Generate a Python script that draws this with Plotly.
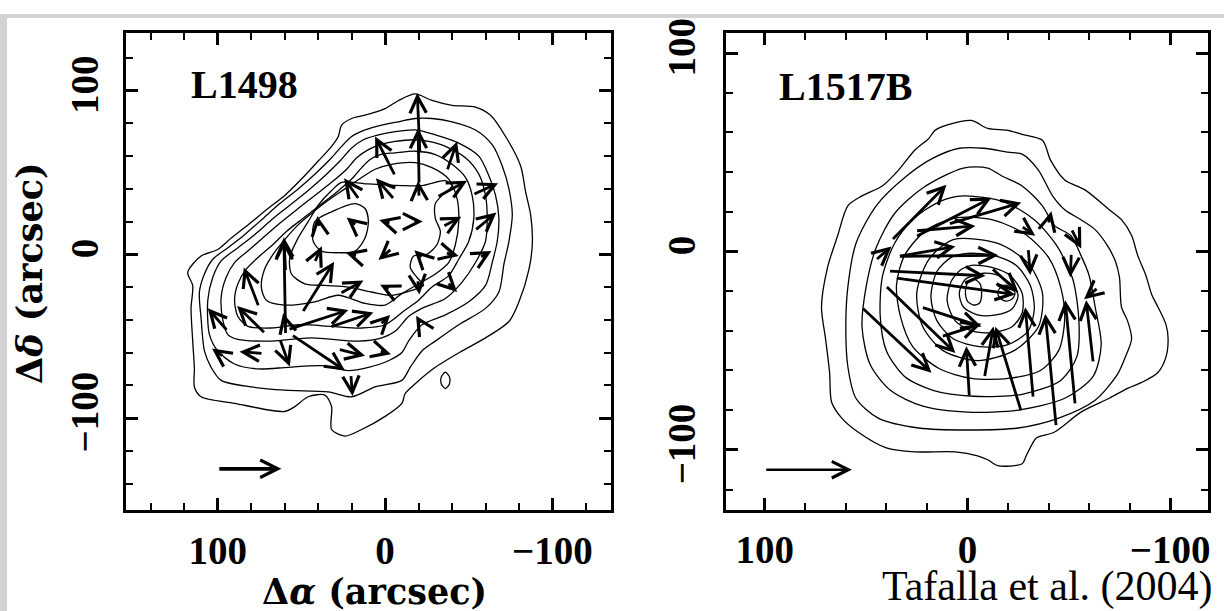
import plotly.graph_objects as go

# ---------------- L1498 (left panel) ----------------
# Contour paths, offsets in arcsec (x = RA offset, y = Dec offset)
L1498_C1_X = [-18, -8, 0, 12, 20, 26, 28, 32, 40, 50, 60, 70, 82, 92, 100, 110, 118, 115, 116, 115, 114, 114, 110, 90, 60, 54, 46, 36, 32, 32, 24, 14, 0, -10, -12, -18, -30, -46, -60, -74, -80, -86, -88, -87, -84, -81, -72, -63, -54, -40, -28, -18]
L1498_C1_Y = [98, 94, 89, 85, 83, 79, 72, 66, 57, 46, 36, 28, 18, 10, 3, -1, -11, -19, -33, -53, -70, -81, -87, -91, -96, -93, -87, -86, -93, -107, -111, -107, -99, -91, -85, -79, -69, -59, -51, -41, -29, -9, 7, 24, 38, 54, 72, 85, 90, 91, 94, 98]

L1498_C2_X = [-18, -8, 2, 12, 20, 26, 32, 42, 52, 63, 74, 84, 94, 103, 108, 111, 110, 108, 104, 98, 80, 60, 34, 20, 6, -10, -15, -22, -30, -44, -60, -68, -71, -74, -76, -74, -70, -64, -54, -40, -28, -18]
L1498_C2_Y = [83, 81, 79, 76, 72, 66, 59, 49, 40, 31, 21, 12, 4, -3, -12, -23, -39, -59, -69, -77, -81, -83, -84, -87, -81, -77, -69, -59, -53, -43, -33, -23, -6, 8, 24, 40, 54, 67, 76, 81, 83, 83]

L1498_C3_X = [-18, -6, 4, 13, 20, 27, 36, 46, 57, 68, 78, 88, 98, 103, 106, 105, 100, 90, 76, 58, 38, 22, 10, -2, -10, -14, -22, -36, -50, -60, -64, -67, -68, -66, -62, -56, -44, -30, -18]
L1498_C3_Y = [76, 75, 73, 70, 65, 57, 48, 39, 30, 21, 12, 4, -4, -14, -28, -49, -59, -67, -70, -69, -68, -71, -69, -65, -60, -53, -43, -37, -29, -19, -5, 8, 22, 36, 48, 60, 68, 73, 76]

L1498_C4_X = [-18, -6, 3, 10, 17, 23, 32, 42, 52, 63, 72, 81, 90, 95, 98, 97, 94, 88, 70, 44, 16, 2, -6, -14, -22, -36, -46, -54, -60, -61, -60, -56, -48, -36, -26, -18]
L1498_C4_Y = [70, 69, 67, 64, 59, 52, 44, 36, 28, 19, 11, 3, -5, -14, -26, -40, -49, -52, -53, -51, -53, -51, -47, -38, -33, -27, -17, -5, 8, 22, 36, 49, 59, 66, 69, 70]

L1498_C5_X = [-18, -6, 3, 9, 14, 20, 29, 39, 49, 59, 67, 75, 83, 88, 90, 88, 82, 68, 52, 32, 14, 0, -12, -20, -28, -38, -44, -50, -53, -52, -48, -40, -30, -18]
L1498_C5_Y = [63, 62, 61, 58, 53, 46, 38, 30, 22, 14, 6, -1, -9, -18, -28, -38, -44, -45, -43, -44, -45, -43, -34, -28, -20, -13, -3, 8, 22, 36, 47, 55, 61, 63]

L1498_C6_X = [-18, -4, 6, 14, 24, 34, 44, 52, 60, 67, 72, 74, 71, 60, 42, 28, 12, 0, -10, -20, -30, -38, -42, -44, -43, -38, -28, -18]
L1498_C6_Y = [56, 55, 52, 47, 40, 33, 25, 18, 9, 0, -9, -20, -28, -31, -29, -25, -30, -31, -24, -18, -12, -5, 6, 20, 34, 46, 53, 56]

L1498_C7_X = [26, 10, -10, -22, -30, -36, -40, -34, -30, -30, -33, -31, -25, -17, -15, -19, -23, -16, -4, 8, 22, 36, 48, 56, 57, 52, 46, 40, 32, 26]
L1498_C7_Y = [44, 43, 42, 42, 44, 45, 42, 36, 31, 22, 14, 6, 0, -1, -8, -14, -19, -22, -25, -23, -20, -19, -18, -12, -2, 10, 20, 30, 39, 44]

L1498_C8_X = [42, 32, 18, 12, 10, 12, 18, 28, 38, 43, 42]
L1498_C8_Y = [20, 26, 31, 28, 20, 10, 2, 1, 2, 8, 20]

L1498_C9_X = [-36, -38.5, -38.5, -36, -33.5, -33.5, -36]
L1498_C9_Y = [-72, -75, -79, -82, -79, -75, -72]

# Velocity-gradient arrows: centre position and vector (arcsec of drawn length)
L1498_AX = [0, -20, -40, -20, 20, 0, -20, -40, -60, 40, 20, 0, -20, -40, -60, 60, 40, 20, 0, -20, -40, -60,
            80, 60, 40, 20, 0, -20, -40, 100, 80, 60, 40, 20, 0, -20, 100, 80, 60, 40, 20, 0, 20]
L1498_AY = [60, 60, 60, 80, 40, 40, 40, 40, 40, 20, 20, 20, 20, 20, 20, 0, 0, 0, 0, 0, 0, 0,
            -20, -20, -20, -20, -20, -20, -20, -40, -40, -40, -40, -40, -40, -40, -60, -60, -60, -60, -60, -60, -80]
L1498_DX = [12, 0.6, -6, 1.6, 9, 11, 0.6, -18, -15, 1, 6, 7, -5, -11, -13, 1, -4.4, 7, 8, 5, -8, -7,
            9, 1, -19, -14, 6, -1, -6, 12, 17, 2, -36, -26, -6, 3, 7, 14, -6, -32, -16, -7, -1]
L1498_DY = [24, 34, 18, 37, 13, 13, 10, 10, 7, 7, 5, 2, 0, 6, 11, 21, 10, 2, -7, 5, -2, 4,
            24, 58, 31, 8, 3, -9, -6, 14, 17, 8, 12, 9, 6, 5, 5, 1, -17, -22, -4, -2, -13]

# ---------------- L1517B (right panel) ----------------
L1517B_C1_X = [9, -2, -10, -20, -27, -37, -41, -48, -58, -70, -76, -81, -84, -88, -91, -94, -98, -99, -98, -94, -86, -79, -70, -56, -43, -34, -32, -29, -27, -15, -10, -5, 6, 26, 40, 54, 62, 67, 68, 70, 72, 69, 64, 59, 52, 42, 34, 26, 19, 16, 9]
L1517B_C1_Y = [64, 66, 62, 61, 59, 56, 46, 36, 31, 21, 16, 8, -2, -12, -22, -28, -37, -44, -53, -61, -66, -69, -74, -81, -91, -94, -97, -103, -107, -108, -105, -103, -101, -101, -99, -91, -84, -76, -61, -44, -28, -8, 8, 23, 28, 33, 41, 51, 57, 61, 64]

L1517B_C2_X = [4, -8, -20, -27, -35, -42, -48, -56, -63, -69, -73, -75, -76, -79, -81, -78, -74, -63, -45, -25, 0, 24, 44, 55, 59, 60, 59, 55, 45, 30, 17, 4]
L1517B_C2_Y = [52, 52, 50, 49, 41, 28, 21, 16, 11, 3, -5, -13, -28, -35, -44, -53, -62, -75, -84, -89, -90, -89, -84, -74, -58, -38, -18, 4, 23, 38, 47, 52]

L1517B_C3_X = [2, -10, -17, -27, -37, -43, -51, -56, -60, -63, -66, -62, -48, -25, 0, 22, 38, 48, 52, 50, 45, 36, 22, 2]
L1517B_C3_Y = [42, 42, 38, 33, 23, 13, 8, -2, -12, -28, -47, -63, -74, -80, -81, -78, -70, -57, -38, -18, 2, 19, 32, 42]

L1517B_C4_X = [2, -18, -33, -44, -52, -55, -54, -46, -27, -3, 17, 31, 40, 43, 42, 36, 27, 14, 2]
L1517B_C4_Y = [28, 25, 16, 3, -14, -35, -53, -65, -72, -73, -70, -63, -50, -33, -13, 4, 16, 25, 28]

L1517B_C5_X = [5, -12, -28, -40, -46, -48, -45, -36, -20, -2, 14, 27, 33, 35, 31, 20, 5]
L1517B_C5_Y = [17, 16, 9, -3, -18, -34, -50, -60, -64, -64, -59, -48, -33, -17, -2, 11, 17]

L1517B_C6_X = [7, -15, -30, -37, -35, -23, -5, 12, 22, 25, 19, 7]
L1517B_C6_Y = [6, 4, -6, -21, -38, -50, -55, -50, -38, -21, -4, 6]

L1517B_C7_X = [0, -13, -24, -31, -33, -30, -20, -6, 7, 15, 18, 15, 8, 0]
L1517B_C7_Y = [-1, -2, -7, -17, -29, -40, -47, -48, -44, -35, -23, -10, -3, -1]

L1517B_C8_X = [-2, -12, -21, -27, -27, -22, -12, -2, 6, 10, 8, 3, -2]
L1517B_C8_Y = [-7, -8, -12, -21, -31, -38, -41, -40, -35, -25, -15, -9, -7]

L1517B_C9_X = [-8, -15, -21, -25, -22, -14, -5, 2, 4, 1, -8]
L1517B_C9_Y = [-11, -12, -16, -22, -29, -32, -32, -28, -21, -14, -11]

L1517B_C10_X = [-3, -6, -7, -6, -3, 0, 1, 0, -3]
L1517B_C10_Y = [-14, -16, -21, -26, -27, -25, -20, -16, -14]

L1517B_C11_X = [-19, -22, -23.5, -22, -19, -16, -15, -16, -19]
L1517B_C11_Y = [-17, -19, -21, -24, -25, -23.5, -21, -18.5, -17]

L1517B_AX = [23.9, 6.9, -8.6, 41.4, 9.4, 15.0, 6.0, 23.2, 35.0, 7.9, -0.2, -10.6, -20.2, -30.5, -41.1, -50.7, -60.3,
             -30.5, -61.0, 10.8, -30.0, 20.0, -18.5, -40.7, -53.7, -51.0, 3.0]
L1517B_AY = [19.5, 17.2, 19.2, -1.0, -2.2, -11.1, -17.5, -34.2, -44.6, -33.0, -60.6, -50.7, -59.4, -51.0, -59.9, -51.0, -40.4,
             -5.2, -21.2, 11.6, 10.3, 0.0, -14.5, 17.0, 6.4, -7.0, -39.7]
L1517B_DX = [-27.1, -37.4, -36.0, -7.9, -49.3, -47.8, -59.1, -34.5, -34.5, -29.6, 1.5, -4.4, 12.8, 3.9, 5.4, 4.9, 3.5,
             -1.0, 6.9, -29.5, -6.9, -28.1, -13.3, -1.5, -4.9, 0.5, -19.7]
L1517B_DY = [28.1, 19.7, 10.8, 6.9, 0.5, -2.4, -8.4, -34.0, -33.0, -9.8, 25.6, 25.6, 42.9, 45.8, 56.7, 52.7, 31.6,
             -13.3, -5.9, 2.5, -4.9, 5.0, -12.3, 6.4, -9.8, -12.0, 6.4]

# Scale arrows (tail x, head x, y)
L1498_SCALE = [100, 62, -131]
L1517B_SCALE = [100, 57, -110]

TICK_FONT = dict(family="Liberation Serif", size=39, color="black", weight="bold")
LABEL_FONT = dict(family="Liberation Serif", size=40, color="black", weight="bold")
TITLE_FONT = dict(family="DejaVu Serif", size=35, color="black", weight="bold")

fig = go.Figure()

def add_paths(paths, xa, ya):
    for xs, ys in paths:
        fig.add_trace(go.Scatter(
            x=xs, y=ys, mode="lines", xaxis=xa, yaxis=ya,
            line=dict(color="black", width=1.3, shape="spline", smoothing=0.8),
            hoverinfo="skip", showlegend=False))

add_paths([(L1498_C1_X, L1498_C1_Y), (L1498_C2_X, L1498_C2_Y), (L1498_C3_X, L1498_C3_Y),
           (L1498_C4_X, L1498_C4_Y), (L1498_C5_X, L1498_C5_Y), (L1498_C6_X, L1498_C6_Y),
           (L1498_C7_X, L1498_C7_Y), (L1498_C8_X, L1498_C8_Y), (L1498_C9_X, L1498_C9_Y)], "x", "y")
add_paths([(L1517B_C1_X, L1517B_C1_Y), (L1517B_C2_X, L1517B_C2_Y), (L1517B_C3_X, L1517B_C3_Y),
           (L1517B_C4_X, L1517B_C4_Y), (L1517B_C5_X, L1517B_C5_Y), (L1517B_C6_X, L1517B_C6_Y),
           (L1517B_C7_X, L1517B_C7_Y), (L1517B_C8_X, L1517B_C8_Y), (L1517B_C9_X, L1517B_C9_Y),
           (L1517B_C10_X, L1517B_C10_Y), (L1517B_C11_X, L1517B_C11_Y)], "x2", "y2")

def add_arrows(cx, cy, dx, dy, xref, yref, width, size):
    for x0, y0, u, v in zip(cx, cy, dx, dy):
        fig.add_annotation(
            x=x0 + u / 2, y=y0 + v / 2, ax=x0 - u / 2, ay=y0 - v / 2,
            xref=xref, yref=yref, axref=xref, ayref=yref,
            text="", showarrow=True, arrowhead=5, arrowsize=size,
            arrowwidth=width, arrowcolor="black")

add_arrows(L1498_AX, L1498_AY, L1498_DX, L1498_DY, "x", "y", 2.8, 1.15)
add_arrows(L1517B_AX, L1517B_AY, L1517B_DX, L1517B_DY, "x2", "y2", 2.8, 1.15)

# scale bars
for (x_tail, x_head, yv), xr, yr, w, s in [(L1498_SCALE, "x", "y", 3.8, 0.9), (L1517B_SCALE, "x2", "y2", 2.6, 1.25)]:
    fig.add_annotation(x=x_head, y=yv, ax=x_tail, ay=yv, xref=xr, yref=yr, axref=xr, ayref=yr,
                       text="", showarrow=True, arrowhead=5, arrowsize=s,
                       arrowwidth=w, arrowcolor="black")

W, H = 1226, 611

def axis(domain, rng, **kw):
    d = dict(domain=domain, range=rng, showline=True, linewidth=3, linecolor="black",
             mirror="allticks", ticks="inside", ticklen=12, tickwidth=2.5, tickcolor="black",
             showgrid=False, zeroline=False, tick0=0, dtick=100, tickfont=TICK_FONT,
             minor=dict(ticks="inside", ticklen=7, tickwidth=2, tickcolor="black", dtick=20, tick0=0, showgrid=False))
    d.update(kw)
    return d

ydom = [1 - 508 / H, 1 - 19 / H]
fig.update_layout(
    width=W, height=H, margin=dict(l=0, r=0, t=0, b=0),
    paper_bgcolor="white", plot_bgcolor="white",
    xaxis=axis([126 / W, 612 / W], [155, -135], anchor="y", ticklabelstandoff=4),
    yaxis=axis(ydom, [-156.4, 135.5], anchor="x", tickangle=-90, ticklabelstandoff=9),
    xaxis2=axis([727 / W, 1210 / W], [119.2, -118.7], anchor="y2", ticklabelstandoff=3),
    yaxis2=axis(ydom, [-130.5, 110.3], anchor="x2", tickangle=-90, ticklabelstandoff=12),
    shapes=[
        dict(type="rect", xref="paper", yref="paper", x0=0, x1=7 / W, y0=0, y1=1,
             fillcolor="#d3d3d3", line=dict(width=0), layer="below"),
        dict(type="rect", xref="paper", yref="paper", x0=0, x1=1, y0=1 - 4 / H, y1=1,
             fillcolor="#d3d3d3", line=dict(width=0), layer="below"),
    ],
)

fig.add_annotation(x=117, y=104, xref="x", yref="y", text="L1498", showarrow=False,
                   xanchor="left", yanchor="middle", font=LABEL_FONT)
fig.add_annotation(x=94, y=83, xref="x2", yref="y2", text="L1517B", showarrow=False,
                   xanchor="left", yanchor="middle", font=LABEL_FONT)
fig.add_annotation(x=375 / W, y=1 - 591 / H, xref="paper", yref="paper",
                   xanchor="center", yanchor="middle",
                   text="Δ<i>α</i> (arcsec)", showarrow=False, font=TITLE_FONT)
fig.add_annotation(x=30 / W, y=1 - 265 / H, xref="paper", yref="paper", textangle=-90,
                   xanchor="center", yanchor="middle",
                   text="Δ<i>δ</i> (arcsec)", showarrow=False, font=TITLE_FONT)
fig.add_annotation(x=1217 / W, y=1 - 586 / H, xref="paper", yref="paper",
                   xanchor="right", yanchor="middle",
                   text="Tafalla et al. (2004)", showarrow=False,
                   font=dict(family="Liberation Serif", size=42, color="black"))

fig.write_html("out.html")
